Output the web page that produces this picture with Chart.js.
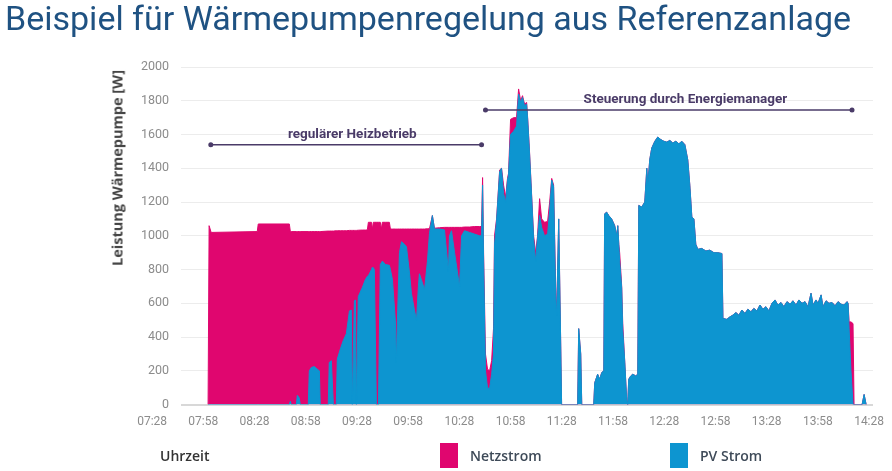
<!DOCTYPE html>
<html lang="de">
<head>
<meta charset="utf-8">
<title>Beispiel für Wärmepumpenregelung</title>
<script src="https://cdn.jsdelivr.net/npm/chart.js@4.4.1/dist/chart.umd.min.js"></script>
<style>
  body { margin: 0; background: #fff; font-family: Roboto, "Open Sans", sans-serif; }
  #wrap { position: relative; width: 892px; height: 471px; overflow: hidden; }
  #chart { position: absolute; left: 0; top: 0; }
  h1 { position: absolute; left: 5px; top: -3px; margin: 0; font-weight: 400; font-size: 34px; line-height: 42px; color: #1f5282; white-space: nowrap; }
  .ytitle { position: absolute; left: 117px; top: 168px; transform: translate(-50%, -50%) rotate(-90deg); font: bold 14.5px "Open Sans"; color: #444; white-space: nowrap; }
  .leg { position: absolute; top: 444px; font: 600 14px "Open Sans"; line-height: 24px; white-space: nowrap; }
  .box { position: absolute; top: 443px; width: 18px; height: 25px; }
</style>
</head>
<body>
<div id="wrap">
  <canvas id="chart" width="892" height="471"></canvas>
  <h1>Beispiel für Wärmepumpenregelung aus Referenzanlage</h1>
  <div class="ytitle">Leistung Wärmepumpe [W]</div>
  <div class="leg" style="left:160px;color:#333">Uhrzeit</div>
  <div class="box" style="left:440px;background:#e0066f"></div>
  <div class="leg" style="left:470px;color:#3e4a58">Netzstrom</div>
  <div class="box" style="left:670px;background:#0d95d0"></div>
  <div class="leg" style="left:700px;color:#3e4a58">PV Strom</div>
</div>
<script>
// Minuten nach 07:28
const minuten = [
  32.8, 33.4, 34.6, 61.6, 62.2, 80.4, 81.0, 81.5, 84.5, 85.1, 86.2, 86.8, 91.5, 92.1, 93.3, 95.0, 96.8, 98.0, 98.5,
  103.2, 103.8, 105.0, 106.2, 107.9, 108.5, 110.3, 112.0, 113.8, 115.6, 116.7, 117.3, 118.5, 119.1, 119.7, 120.8,
  123.2, 124.9, 126.1, 126.7, 127.3, 128.5, 129.1, 129.6, 130.2, 131.4, 132.6, 133.7, 134.3, 134.9, 136.7, 139.0,
  139.6, 140.8, 142.5, 143.1, 143.7, 144.9, 146.1, 147.8, 149.0, 150.8, 151.9, 153.7, 154.9, 156.0, 156.6, 158.4,
  159.6, 161.3, 162.5, 164.2, 165.4, 168.4, 171.3, 173.6, 174.2, 175.4, 177.2, 180.1, 181.3, 183.0, 186.0, 188.9,
  191.8, 193.0, 193.6, 194.2, 195.3, 196.5, 197.7, 198.9, 200.0, 200.6, 201.8, 203.6, 204.7, 205.9, 207.1, 208.2,
  208.8, 210.0, 211.8, 213.5, 214.7, 215.9, 217.0, 218.2, 219.4, 220.0, 221.1, 222.3, 223.5, 224.7, 225.8, 227.0,
  228.2, 229.9, 231.7, 232.9, 234.1, 235.2, 236.4, 237.0, 238.2, 239.3, 239.9,
  249.3, 249.9, 251.1, 251.7, 258.7, 259.3, 261.0, 262.2, 263.4, 264.6, 265.1, 266.3, 267.5, 269.2, 271.0, 272.2,
  272.8, 273.4, 273.9, 275.1, 275.7, 276.9, 278.0, 278.6, 279.2, 280.4, 281.6, 283.3, 284.5, 285.1, 286.8, 288.6,
  289.8, 290.4, 291.5, 292.7, 294.5, 296.2, 298.0, 299.8, 301.5, 303.3, 305.0, 306.8, 308.6, 310.3, 312.1, 313.8,
  315.0, 316.2, 317.4, 318.5, 319.7, 322.0, 324.4, 326.7, 329.1, 331.4, 333.8, 334.4, 336.7, 338.5, 340.2, 342.0,
  343.7, 345.5, 347.3, 349.0, 350.8, 352.5, 354.3, 356.1, 357.8, 359.6, 361.3, 363.1, 364.9, 366.6, 368.4, 370.1,
  371.9, 373.7, 375.4, 377.2, 378.9, 380.7, 382.5, 384.2, 386.0, 387.2, 388.9, 390.1, 391.9, 393.0, 394.8, 396.5,
  398.3, 400.1, 401.8, 403.6, 405.3, 407.1, 407.7, 408.3, 409.4, 410.6, 411.2, 415.9, 417.1, 418.3
];

// Gesamtleistung der Wärmepumpe (Oberkante Netzstrom) in W
const gesamtLeistung = [
  0, 1060, 1020, 1025, 1070, 1070, 1025, 1025, 1025, 1025, 1025, 1025, 1025, 1025, 1025, 1025, 1025, 1025, 1025,
  1028, 1028, 1028, 1028, 1030, 1030, 1030, 1030, 1030, 1032, 1032, 1032, 1032, 1032, 1032, 1033,
  1034, 1034, 1035, 1080, 1080, 1080, 1040, 1080, 1080, 1080, 1080, 1080, 1040, 1080, 1080, 1080,
  1040, 1040, 1040, 1040, 1040, 1040, 1040, 1040, 1040, 1040, 1040, 1040, 1040, 1040, 1040, 1040,
  1040, 1042, 1042, 1120, 1045, 1048, 1050, 1050, 1050, 1050, 1050, 1050, 1050, 1052, 1052, 1055,
  1055, 1055, 1345, 900, 300, 210, 200, 260, 450, 1000, 1100, 1390, 1400, 1300, 1230, 1340,
  1370, 1690, 1700, 1700, 1870, 1800, 1830, 1780, 1790, 1700, 1500, 1250, 1000, 900, 1000, 1220,
  1100, 1080, 1085, 1200, 1340, 1300, 700, 540, 1100, 400, 0,
  0, 450, 300, 0, 0, 130, 180, 150, 190, 200, 1130, 1140, 1120, 1100, 1060, 1000,
  1060, 950, 900, 700, 480, 250, 30, 0, 150, 170, 180, 170, 180, 1180, 1170, 1200,
  1400, 1300, 1450, 1520, 1560, 1585, 1570, 1560, 1555, 1565, 1550, 1560, 1545, 1560, 1540, 1450,
  1300, 1110, 1100, 950, 920, 925, 910, 915, 900, 900, 895, 510, 505, 520, 530, 545,
  530, 560, 540, 565, 550, 570, 555, 590, 565, 580, 555, 600, 620, 590, 605, 580,
  610, 595, 615, 590, 620, 600, 610, 580, 660, 590, 620, 600, 650, 580, 615, 600,
  605, 585, 610, 595, 590, 610, 600, 490, 490, 480, 0, 0, 60, 0
];

// PV Strom in W
const pvStrom = [
  0, 0, 0, 0, 0, 0, 20, 0, 0, 55, 40, 0, 0, 200, 220, 225, 210, 200, 0,
  0, 250, 260, 0, 0, 270, 330, 380, 420, 555, 560, 0, 615, 620, 0, 640,
  695, 740, 760, 765, 775, 800, 815, 810, 800, 0, 0, 830, 840, 850, 830, 825,
  800, 740, 500, 250, 500, 900, 965, 950, 935, 780, 660, 560, 500, 700, 775, 720,
  680, 850, 1015, 1120, 1040, 1040, 1035, 790, 1000, 1030, 900, 700, 1000, 1030, 1020, 1010,
  1000, 1000, 1300, 850, 200, 100, 95, 180, 300, 950, 1090, 1380, 1400, 1250, 1200, 1330,
  1360, 1600, 1620, 1650, 1840, 1790, 1820, 1770, 1780, 1690, 1490, 1240, 980, 850, 990, 1120,
  1050, 1000, 1010, 1150, 1330, 1290, 650, 530, 1100, 400, 0,
  0, 450, 300, 0, 0, 130, 180, 150, 190, 200, 1130, 1140, 1120, 1100, 1060, 1000,
  1060, 950, 850, 690, 440, 250, 30, 0, 150, 170, 180, 170, 180, 1180, 1170, 1200,
  1400, 1300, 1450, 1520, 1560, 1585, 1570, 1560, 1555, 1565, 1550, 1560, 1545, 1560, 1540, 1450,
  1300, 1110, 1100, 950, 920, 925, 910, 915, 900, 900, 895, 510, 505, 520, 530, 545,
  530, 560, 540, 565, 550, 570, 555, 590, 565, 580, 555, 600, 620, 590, 605, 580,
  610, 595, 615, 590, 620, 600, 610, 580, 660, 590, 620, 600, 650, 580, 615, 600,
  605, 585, 610, 595, 590, 610, 600, 450, 200, 0, 0, 0, 60, 0
];

const startUhrzeit = 7 * 60 + 28;
const tickMinuten = [0, 30, 60, 90, 120, 150, 180, 210, 240, 270, 300, 330, 360, 390, 420];

// Phasen (Pfeile oben im Diagramm)
const phasenText = ['regulärer Heizbetrieb', 'Steuerung durch Energiemanager'];
const phasenStart = [34.4, 195.3];
const phasenEnde = [193.0, 410.0];
const phasenTextMitte = [117.3, 312.4];
const phasenHoehe = [1540, 1745];

function uhrzeit(v) {
    const m = startUhrzeit + v;
    const h = Math.floor(m / 60);
    const mm = Math.round(m % 60);
    return String(h).padStart(2, '0') + ':' + String(mm).padStart(2, '0');
}

const phasenPlugin = {
    id: 'phasen',
    afterDatasetsDraw(chart) {
        const ctx = chart.ctx;
        const x = chart.scales.x;
        const y = chart.scales.y;
        ctx.save();
        ctx.strokeStyle = '#4a3b68';
        ctx.fillStyle = '#4a3b68';
        ctx.lineWidth = 1.5;
        ctx.font = 'bold 13.5px Roboto';
        ctx.textAlign = 'center';
        ctx.textBaseline = 'middle';
        phasenText.forEach(function(txt, i) {
            const x1 = x.getPixelForValue(phasenStart[i]);
            const x2 = x.getPixelForValue(phasenEnde[i]);
            const yy = y.getPixelForValue(phasenHoehe[i]);
            ctx.beginPath();
            ctx.moveTo(x1, yy);
            ctx.lineTo(x2, yy);
            ctx.stroke();
            [x1, x2].forEach(function(px) {
                ctx.beginPath();
                ctx.arc(px, yy, 2.5, 0, Math.PI * 2);
                ctx.fill();
            });
            ctx.fillText(txt, x.getPixelForValue(phasenTextMitte[i]), yy - 10);
        });
        ctx.restore();
    }
};

const ctx = document.getElementById('chart').getContext('2d');

new Chart(ctx, {
    type: 'line',
    data: {
        datasets: [
            {
                label: 'Netzstrom',
                data: minuten.map((t, i) => ({ x: t, y: gesamtLeistung[i] })),
                borderColor: '#e0066f',
                backgroundColor: '#e0066f',
                borderWidth: 1,
                fill: 'origin',
                pointRadius: 0,
                tension: 0,
                order: 1
            },
            {
                label: 'PV Strom',
                data: minuten.map((t, i) => ({ x: t, y: pvStrom[i] })),
                borderColor: '#0d95d0',
                backgroundColor: '#0d95d0',
                borderWidth: 1,
                fill: 'origin',
                pointRadius: 0,
                tension: 0,
                order: 0
            }
        ]
    },
    options: {
        responsive: false,
        animation: false,
        devicePixelRatio: 1,
        layout: { padding: { left: 129, right: 19, top: 67, bottom: 40 } },
        plugins: {
            legend: { display: false },
            tooltip: { enabled: false },
            title: { display: false }
        },
        scales: {
            x: {
                type: 'linear',
                min: 17,
                max: 422.3,
                afterBuildTicks: function(scale) {
                    scale.ticks = tickMinuten.map(v => ({ value: v }));
                },
                grid: { display: false },
                border: { display: false },
                ticks: {
                    autoSkip: false,
                    maxRotation: 0,
                    padding: 2,
                    color: '#8c8c8c',
                    font: { family: 'Roboto', size: 12 },
                    callback: function(v) { return uhrzeit(v); }
                }
            },
            y: {
                min: 0,
                max: 2000,
                grid: {
                    drawTicks: false,
                    color: c => c.tick && c.tick.value === 0 ? '#d8d8d8' : '#ececec',
                    lineWidth: c => c.tick && c.tick.value === 0 ? 2 : 1
                },
                border: { display: false },
                ticks: {
                    stepSize: 200,
                    padding: 12,
                    color: '#8c8c8c',
                    font: { family: 'Roboto', size: 12.5 },
                    callback: function(v) { return String(v); }
                }
            }
        }
    },
    plugins: [phasenPlugin]
});
</script>
</body>
</html>
